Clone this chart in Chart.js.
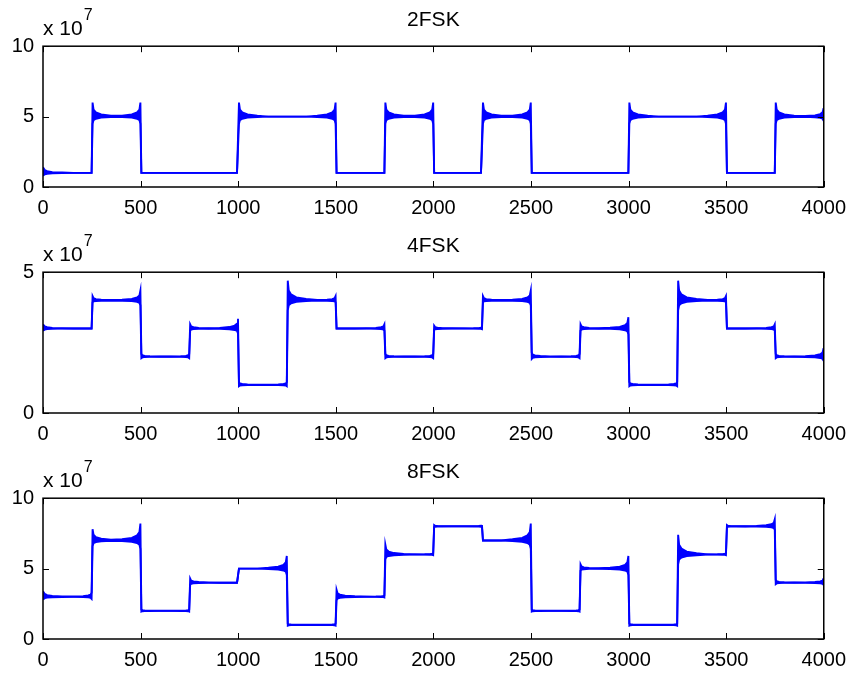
<!DOCTYPE html>
<html>
<head>
<meta charset="utf-8">
<script src="https://cdn.jsdelivr.net/npm/chart.js@4/dist/chart.umd.min.js"></script>
<style>
  body { margin: 0; background: #fff; width: 855px; height: 673px; overflow: hidden; position: relative; }
  .panel { position: absolute; left: 0; width: 855px; height: 224px; }
</style>
</head>
<body>
<div class="panel" style="top:0px"><canvas id="fsk2" width="855" height="224"></canvas></div>
<div class="panel" style="top:226px"><canvas id="fsk4" width="855" height="224"></canvas></div>
<div class="panel" style="top:452px"><canvas id="fsk8" width="855" height="224"></canvas></div>
<script>
// symbol levels (x 10^7), one per 250-sample symbol, 0..4000
const levels2 = [1, 5, 1, 1, 5, 5, 1, 5, 1, 5, 1, 1, 5, 5, 1, 5];
const levels4 = [3, 4, 2, 3, 1, 4, 3, 2, 3, 4, 2, 3, 1, 4, 3, 2];
const levels8 = [3, 7, 2, 4, 5, 1, 3, 6, 8, 7, 2, 5, 1, 6, 8, 4];

// ringing overshoot (x 10^7) at start / end of each symbol
const ringIn2  = [0.4, 1, 0, 0, 1, 0, 0, 1, 0, 1, 0, 0, 1, 0, 0, 1];
const ringOut2 = [0, 1, 0, 0, 0, 1, 0, 1, 0, 1, 0, 0, 0, 1, 0, 0.6];
const ringIn4  = [0.15, 0.15, 0.1, 0.15, 0.1, 0.7, 0, 0.1, 0.1, 0.15, 0.15, 0.15, 0.1, 0.7, 0, 0.1];
const ringOut4 = [0, 0.35, 0.1, 0.35, 0.1, 0.15, 0.15, 0.1, 0.05, 0.35, 0.1, 0.4, 0.1, 0.15, 0.15, 0.3];
const ringIn8  = [0.4, 0.8, 0.1, 0.3, 0, 0.1, 0.5, 0.7, 0.1, 0, 0.1, 0.3, 0.1, 1.4, 0.1, 0.2];
const ringOut8 = [0.3, 1.2, 0.1, 0, 0.9, 0.1, 0.1, 0.1, 0.1, 1.2, 0.1, 0.9, 0.1, 0.1, 0.5, 0.3];

const SYMBOL_LEN = 250;
const BLUE = 'rgb(0,0,255)';
const FONT = "'Liberation Sans', Arial, Helvetica, sans-serif";

// decay shape of the ringing: [samples from the symbol edge, share of overshoot]
const DECAY = [[1, 1], [6, 0.5], [18, 0.3], [45, 0.15], [95, 0.07]];

// envelope of the ringing signal; side = 1 for upper edge, negative for lower edge
function envelope(levels, ringIn, ringOut, side) {
  const pts = [];
  levels.forEach((L, i) => {
    const x0 = i * SYMBOL_LEN, x1 = x0 + SYMBOL_LEN;
    const a = ringIn[i] * side, b = ringOut[i] * side;
    DECAY.forEach(([d, f], k) => {
      pts.push({ x: i === 0 && k === 0 ? 0 : x0 + d + 3, y: L + a * f });
    });
    DECAY.slice().reverse().forEach(([d, f]) => {
      pts.push({ x: x1 - d, y: L + b * f });
    });
  });
  return pts;
}

// matlab style box, inward ticks and the "x 10^7" exponent label
const matlabAxes = {
  id: 'matlabAxes',
  afterDatasetsDraw(chart) {
    const { ctx, chartArea: a, scales: { x, y } } = chart;
    const tl = 6;
    ctx.save();
    ctx.strokeStyle = '#000';
    ctx.lineWidth = 1.5;
    ctx.strokeRect(a.left, a.top, a.right - a.left, a.bottom - a.top);
    ctx.lineWidth = 1;
    ctx.beginPath();
    x.ticks.forEach(t => {
      const px = Math.round(x.getPixelForValue(t.value)) + 0.5;
      ctx.moveTo(px, a.bottom); ctx.lineTo(px, a.bottom - tl);
      ctx.moveTo(px, a.top); ctx.lineTo(px, a.top + tl);
    });
    y.ticks.forEach(t => {
      const py = Math.round(y.getPixelForValue(t.value)) + 0.5;
      ctx.moveTo(a.left, py); ctx.lineTo(a.left + tl, py);
      ctx.moveTo(a.right, py); ctx.lineTo(a.right - tl, py);
    });
    ctx.stroke();

    ctx.fillStyle = '#000';
    ctx.textBaseline = 'alphabetic';
    ctx.textAlign = 'left';
    ctx.font = '21px ' + FONT;
    const base = 'x 10';
    ctx.fillText(base, a.left, a.top - 11);
    const w = ctx.measureText(base).width;
    ctx.font = '16px ' + FONT;
    ctx.fillText('7', a.left + w + 1, a.top - 26);
    ctx.restore();
  }
};

function makeChart(id, title, yMax, levels, ringIn, ringOut) {
  new Chart(document.getElementById(id), {
    type: 'line',
    data: {
      datasets: [
        {
          data: envelope(levels, ringIn, ringOut, 1),
          borderColor: BLUE,
          borderWidth: 1.9,
          pointRadius: 0,
          fill: false
        },
        {
          data: envelope(levels, ringIn, ringOut, -0.5),
          borderColor: BLUE,
          backgroundColor: BLUE,
          borderWidth: 1.9,
          pointRadius: 0,
          fill: '-1'
        }
      ]
    },
    options: {
      responsive: false,
      animation: false,
      devicePixelRatio: 1,
      layout: { padding: { left: 0, right: 27, top: 0, bottom: 0 } },
      plugins: {
        legend: { display: false },
        tooltip: { enabled: false },
        title: {
          display: true,
          text: title,
          fullSize: false,
          color: '#000',
          font: { family: FONT, size: 21, weight: 'normal' },
          padding: { top: 8, bottom: 13 }
        }
      },
      scales: {
        x: {
          type: 'linear',
          min: 0,
          max: 4000,
          ticks: {
            stepSize: 500, color: '#000', padding: 9, maxRotation: 0,
            font: { family: FONT, size: 20 },
            callback: v => String(v)
          },
          grid: { display: false, drawTicks: false },
          border: { display: false },
          afterFit: s => { s.height = 37; }
        },
        y: {
          min: 0,
          max: yMax,
          ticks: {
            stepSize: 5, color: '#000', padding: 9,
            font: { family: FONT, size: 20 },
            callback: v => String(v)
          },
          grid: { display: false, drawTicks: false },
          border: { display: false },
          afterFit: s => { s.width = 43; }
        }
      }
    },
    plugins: [matlabAxes]
  });
}

makeChart('fsk2', '2FSK', 10, levels2, ringIn2, ringOut2);
makeChart('fsk4', '4FSK', 5, levels4, ringIn4, ringOut4);
makeChart('fsk8', '8FSK', 10, levels8, ringIn8, ringOut8);
</script>
</body>
</html>
